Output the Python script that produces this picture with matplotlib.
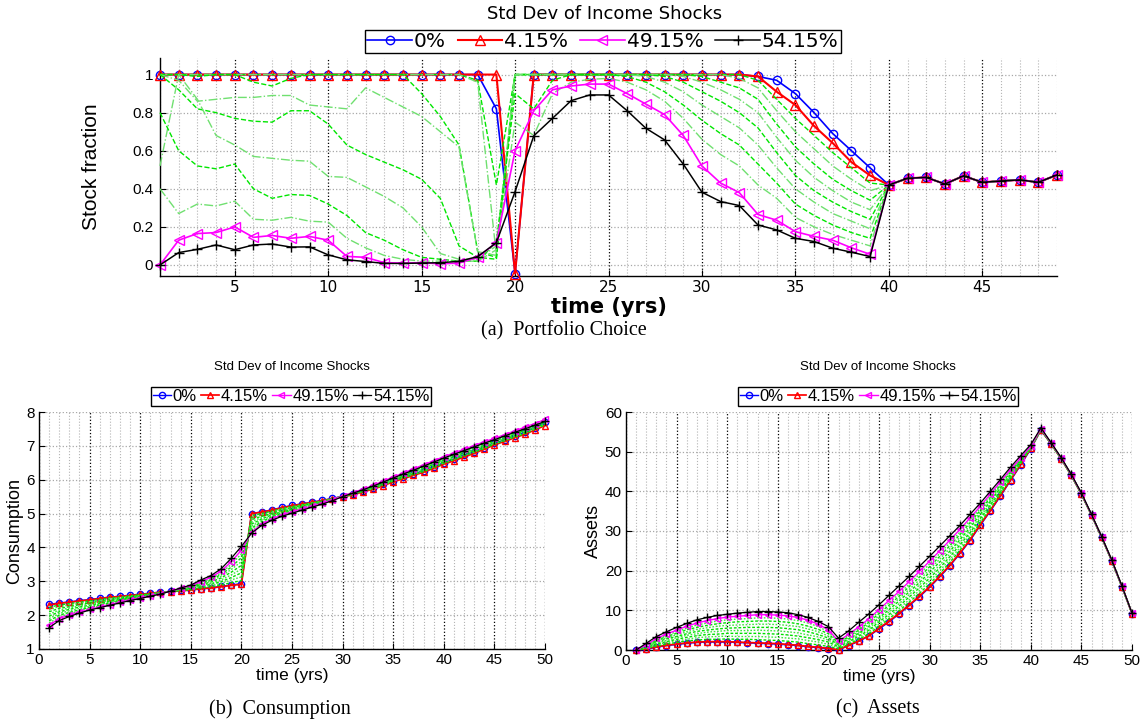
import numpy as np
import matplotlib
matplotlib.use("Agg")
import matplotlib.pyplot as plt

SANS = ["Liberation Sans", "DejaVu Sans"]
WIDE = ["DejaVu Sans"]
NARROW = ["Liberation Sans Narrow", "Liberation Sans", "DejaVu Sans"]
SERIF = ["Liberation Serif", "DejaVu Serif"]

legend_labels = ["0%", "4.15%", "49.15%", "54.15%"]
panel_title = "Std Dev of Income Shocks"

# ---------------- (a) portfolio choice: years 1..40, shared tail 41..49
years_top = np.arange(1, 50)
stock_tail = [0.455, 0.46, 0.425, 0.468, 0.434, 0.441, 0.447, 0.434, 0.473]
stock_0 = [1] * 18 + [0.82, -0.045] + [1] * 12 + [0.99, 0.97, 0.90, 0.80, 0.69, 0.60, 0.51, 0.42]
stock_4 = [1] * 19 + [-0.045] + [1] * 12 + [0.99, 0.91, 0.84, 0.73, 0.64, 0.54, 0.47, 0.42]
stock_49 = [0, 0.13, 0.165, 0.17, 0.20, 0.145, 0.155, 0.14, 0.15, 0.13, 0.045, 0.04, 0.012, 0.01,
            0.012, 0.006, 0.01, 0.04, 0.117, 0.60, 0.81, 0.92, 0.94, 0.95, 0.95, 0.90, 0.845, 0.79,
            0.68, 0.52, 0.43, 0.38, 0.265, 0.235, 0.175, 0.15, 0.13, 0.09, 0.056, 0.42]
stock_54 = [0, 0.065, 0.082, 0.105, 0.08, 0.105, 0.11, 0.094, 0.095, 0.053, 0.027, 0.018, 0.008,
            0.008, 0.01, 0.012, 0.019, 0.044, 0.117, 0.385, 0.678, 0.77, 0.863, 0.893, 0.893, 0.81,
            0.718, 0.657, 0.53, 0.382, 0.333, 0.312, 0.21, 0.184, 0.14, 0.123, 0.088, 0.067, 0.044, 0.42]
# intermediate std devs (9.15% ... 44.15%)
stock_g1 = [1] * 17 + [0.97, 0.42, 1] + [1] * 12 + [0.97, 0.87, 0.77, 0.68, 0.59, 0.51, 0.43, 0.42]
stock_g2 = [1] * 17 + [0.96, 0.05, 1] + [1] * 11 + [0.98, 0.93, 0.81, 0.70, 0.61, 0.52, 0.45, 0.39, 0.42]
stock_g3 = [1, 1, 0.99, 1, 1, 0.96, 0.94, 0.98, 1, 1, 1, 1, 1, 1, 0.9, 0.78, 0.63, 0.07, 0.04, 1] + \
           [1] * 9 + [0.99, 0.96, 0.93, 0.87, 0.74, 0.62, 0.53, 0.45, 0.39, 0.34, 0.42]
stock_g4 = [1, 0.97, 0.86, 0.87, 0.88, 0.88, 0.89, 0.89, 0.84, 0.83, 0.82, 0.93, 0.88, 0.83, 0.78,
            0.70, 0.62, 0.07, 0.05, 1] + [1] * 8 + \
           [0.99, 0.96, 0.92, 0.87, 0.80, 0.67, 0.55, 0.46, 0.39, 0.33, 0.29, 0.42]
stock_g5 = [1, 0.92, 0.82, 0.80, 0.77, 0.755, 0.75, 0.81, 0.81, 0.74, 0.63, 0.58, 0.54, 0.50, 0.45,
            0.35, 0.10, 0.04, 0.03, 1] + [1] * 7 + \
           [0.99, 0.96, 0.91, 0.86, 0.80, 0.72, 0.59, 0.47, 0.39, 0.33, 0.28, 0.24, 0.42]
stock_g6 = [0.52, 1, 0.87, 0.68, 0.63, 0.57, 0.56, 0.55, 0.545, 0.465, 0.46, 0.41, 0.36, 0.30, 0.20,
            0.06, 0.03, 0.03, 0.1, 1] + [1] * 6 + \
           [0.99, 0.96, 0.91, 0.84, 0.78, 0.72, 0.63, 0.51, 0.40, 0.33, 0.27, 0.23, 0.19, 0.42]
stock_g7 = [0.80, 0.60, 0.52, 0.505, 0.53, 0.40, 0.35, 0.37, 0.365, 0.32, 0.26, 0.17, 0.13, 0.08,
            0.04, 0.03, 0.02, 0.02, 0.12, 0.9, 0.82, 0.97, 1, 1, 1, 0.99, 0.96, 0.91, 0.84, 0.76,
            0.69, 0.63, 0.53, 0.43, 0.32, 0.26, 0.21, 0.17, 0.14, 0.42]
stock_g8 = [0.40, 0.27, 0.32, 0.31, 0.335, 0.24, 0.235, 0.25, 0.23, 0.225, 0.14, 0.09, 0.05, 0.03,
            0.02, 0.02, 0.02, 0.02, 0.08, 0.75, 0.68, 0.90, 0.96, 0.975, 0.98, 0.96, 0.92, 0.86,
            0.77, 0.66, 0.58, 0.52, 0.42, 0.35, 0.25, 0.20, 0.16, 0.13, 0.10, 0.42]
stock_ticks = [0, 0.2, 0.4, 0.6, 0.8, 1]
stock_ticklabels = ["0", "0.2", "0.4", "0.6", "0.8", "1"]

# ---------------- (b) consumption, years 1..50
years = np.arange(1, 51)
cons_0 = [2.32, 2.36, 2.39, 2.43, 2.46, 2.50, 2.53, 2.56, 2.59, 2.62, 2.65, 2.68, 2.70, 2.73, 2.75,
          2.78, 2.81, 2.85, 2.89, 2.93, 5.00, 5.05, 5.11, 5.18, 5.24, 5.29, 5.34, 5.39, 5.45, 5.51,
          5.57, 5.66, 5.75, 5.86, 5.97, 6.07, 6.17, 6.27, 6.38, 6.50, 6.61, 6.72, 6.83, 6.95, 7.07,
          7.18, 7.29, 7.40, 7.54, 7.70]
cons_4 = [2.30, 2.35, 2.38, 2.42, 2.45, 2.49, 2.53, 2.55, 2.58, 2.61, 2.64, 2.68, 2.69, 2.72, 2.74,
          2.78, 2.80, 2.84, 2.88, 2.91, 5.00, 5.04, 5.10, 5.17, 5.23, 5.28, 5.33, 5.38, 5.44, 5.50,
          5.55, 5.64, 5.72, 5.82, 5.94, 6.03, 6.13, 6.22, 6.34, 6.46, 6.56, 6.67, 6.78, 6.90, 7.03,
          7.13, 7.24, 7.34, 7.47, 7.60]
cons_49 = [1.70, 1.90, 2.00, 2.09, 2.17, 2.24, 2.31, 2.38, 2.45, 2.51, 2.57, 2.63, 2.71, 2.79, 2.87,
           2.99, 3.12, 3.30, 3.58, 3.92, 4.45, 4.68, 4.84, 4.96, 5.05, 5.14, 5.22, 5.31, 5.41, 5.52,
           5.62, 5.72, 5.83, 5.96, 6.08, 6.20, 6.32, 6.44, 6.56, 6.68, 6.79, 6.90, 7.01, 7.12, 7.22,
           7.33, 7.44, 7.55, 7.66, 7.78]
cons_54 = [1.63, 1.84, 1.96, 2.06, 2.15, 2.22, 2.29, 2.36, 2.43, 2.49, 2.56, 2.62, 2.71, 2.80, 2.89,
           3.04, 3.17, 3.37, 3.68, 4.03, 4.42, 4.65, 4.80, 4.92, 5.01, 5.10, 5.19, 5.28, 5.38, 5.50,
           5.60, 5.70, 5.81, 5.93, 6.05, 6.17, 6.28, 6.40, 6.52, 6.64, 6.75, 6.86, 6.97, 7.08, 7.18,
           7.29, 7.40, 7.50, 7.61, 7.72]
cons_g1 = [2.23, 2.30, 2.34, 2.38, 2.42, 2.46, 2.51, 2.53, 2.57, 2.60, 2.63, 2.67, 2.69, 2.73, 2.75,
           2.80, 2.84, 2.89, 2.96, 3.02, 4.94, 5.00, 5.07, 5.15, 5.21, 5.26, 5.32, 5.37, 5.44, 5.50,
           5.56, 5.65, 5.73, 5.84, 5.96, 6.05, 6.15, 6.24, 6.36, 6.48, 6.59, 6.70, 6.81, 6.92, 7.05,
           7.15, 7.26, 7.36, 7.49, 7.62]
cons_g2 = [2.17, 2.25, 2.30, 2.35, 2.39, 2.43, 2.48, 2.51, 2.55, 2.59, 2.62, 2.67, 2.69, 2.74, 2.77,
           2.83, 2.87, 2.94, 3.04, 3.13, 4.88, 4.96, 5.04, 5.12, 5.19, 5.25, 5.31, 5.36, 5.43, 5.50,
           5.57, 5.66, 5.74, 5.85, 5.97, 6.07, 6.17, 6.27, 6.39, 6.51, 6.61, 6.72, 6.83, 6.95, 7.07,
           7.17, 7.28, 7.39, 7.51, 7.64]
cons_g3 = [2.10, 2.20, 2.25, 2.31, 2.36, 2.41, 2.46, 2.49, 2.54, 2.58, 2.62, 2.66, 2.70, 2.74, 2.78,
           2.85, 2.91, 2.99, 3.11, 3.25, 4.82, 4.92, 5.01, 5.10, 5.17, 5.23, 5.29, 5.36, 5.43, 5.51,
           5.57, 5.67, 5.76, 5.87, 5.99, 6.09, 6.19, 6.29, 6.41, 6.53, 6.64, 6.75, 6.86, 6.97, 7.09,
           7.20, 7.31, 7.41, 7.53, 7.66]
cons_g4 = [2.03, 2.15, 2.21, 2.27, 2.33, 2.38, 2.43, 2.47, 2.52, 2.57, 2.61, 2.66, 2.70, 2.75, 2.80,
           2.87, 2.94, 3.04, 3.19, 3.36, 4.76, 4.88, 4.98, 5.08, 5.15, 5.22, 5.28, 5.35, 5.43, 5.51,
           5.58, 5.68, 5.77, 5.88, 6.00, 6.11, 6.21, 6.32, 6.44, 6.56, 6.66, 6.77, 6.88, 7.00, 7.11,
           7.22, 7.33, 7.43, 7.55, 7.68]
cons_g5 = [1.97, 2.10, 2.17, 2.24, 2.29, 2.35, 2.41, 2.46, 2.51, 2.55, 2.60, 2.65, 2.70, 2.76, 2.81,
           2.90, 2.98, 3.10, 3.27, 3.47, 4.69, 4.84, 4.96, 5.05, 5.13, 5.20, 5.27, 5.34, 5.42, 5.51,
           5.59, 5.68, 5.78, 5.90, 6.02, 6.12, 6.24, 6.34, 6.46, 6.58, 6.69, 6.80, 6.91, 7.02, 7.14,
           7.24, 7.35, 7.46, 7.58, 7.70]
cons_g6 = [1.90, 2.05, 2.13, 2.20, 2.26, 2.32, 2.38, 2.44, 2.49, 2.54, 2.59, 2.65, 2.70, 2.77, 2.83,
           2.92, 3.01, 3.15, 3.35, 3.58, 4.63, 4.80, 4.93, 5.03, 5.11, 5.19, 5.26, 5.33, 5.42, 5.51,
           5.60, 5.69, 5.79, 5.91, 6.03, 6.14, 6.26, 6.37, 6.49, 6.61, 6.71, 6.82, 6.93, 7.05, 7.16,
           7.26, 7.37, 7.48, 7.60, 7.72]
cons_g7 = [1.83, 2.00, 2.08, 2.16, 2.23, 2.30, 2.36, 2.42, 2.48, 2.53, 2.59, 2.64, 2.71, 2.77, 2.84,
           2.94, 3.05, 3.20, 3.42, 3.70, 4.57, 4.76, 4.90, 5.01, 5.09, 5.17, 5.24, 5.33, 5.42, 5.52,
           5.60, 5.70, 5.81, 5.93, 6.05, 6.16, 6.28, 6.39, 6.51, 6.63, 6.74, 6.85, 6.96, 7.07, 7.18,
           7.29, 7.40, 7.50, 7.62, 7.74]
cons_g8 = [1.77, 1.95, 2.04, 2.13, 2.20, 2.27, 2.33, 2.40, 2.46, 2.52, 2.58, 2.64, 2.71, 2.78, 2.86,
           2.97, 3.08, 3.25, 3.50, 3.81, 4.51, 4.72, 4.87, 4.98, 5.07, 5.16, 5.23, 5.32, 5.41, 5.52,
           5.61, 5.71, 5.82, 5.94, 6.06, 6.18, 6.30, 6.42, 6.54, 6.66, 6.76, 6.87, 6.98, 7.10, 7.20,
           7.31, 7.42, 7.53, 7.64, 7.76]

# ---------------- (c) assets, years 1..50
ast_0 = [0, 0.2, 0.7, 1.1, 1.4, 1.7, 1.9, 2.0, 2.0, 2.0, 1.9, 1.8, 1.7, 1.6, 1.5, 1.3, 1.1, 0.8, 0.6,
         0.3, 0.0, 1.1, 2.2, 3.5, 5.3, 7.1, 9.1, 11.2, 13.4, 15.8, 18.4, 21.2, 24.3, 27.6, 31.4, 35.0,
         38.8, 42.7, 46.6, 50.7, 55.4, 52.0, 48.2, 44.0, 39.3, 34.0, 28.4, 22.5, 16.0, 9.2]
ast_4 = [0, 0.3, 0.8, 1.2, 1.5, 1.8, 2.0, 2.1, 2.1, 2.1, 2.0, 1.9, 1.8, 1.7, 1.6, 1.4, 1.2, 0.9, 0.7,
         0.4, 0.1, 1.2, 2.3, 3.6, 5.5, 7.3, 9.3, 11.4, 13.6, 16.0, 18.6, 21.4, 24.5, 27.8, 31.6, 35.2,
         39.0, 42.9, 46.8, 50.9, 55.5, 52.0, 48.2, 44.0, 39.3, 34.0, 28.4, 22.5, 16.0, 9.2]
ast_49 = [0, 1.3, 2.9, 4.0, 5.0, 6.0, 6.8, 7.4, 7.9, 8.3, 8.5, 8.7, 8.9, 8.9, 8.8, 8.6, 8.2, 7.5, 6.5,
          5.1, 2.2, 4.0, 5.8, 7.9, 10.2, 12.5, 14.8, 17.3, 19.8, 22.4, 25.0, 27.7, 30.4, 33.3, 36.2,
          39.3, 42.4, 45.5, 48.4, 51.4, 55.8, 52.2, 48.4, 44.2, 39.5, 34.1, 28.5, 22.6, 16.1, 9.3]
ast_54 = [0, 1.7, 3.4, 4.6, 5.7, 6.7, 7.6, 8.2, 8.7, 9.0, 9.3, 9.5, 9.7, 9.7, 9.6, 9.4, 8.9, 8.2, 7.2,
          5.9, 3.0, 4.8, 7.0, 9.1, 11.4, 13.8, 16.2, 18.6, 21.1, 23.6, 26.2, 28.8, 31.4, 34.2, 37.0,
          40.0, 43.0, 46.1, 49.0, 51.8, 56.0, 52.3, 48.5, 44.3, 39.6, 34.2, 28.6, 22.7, 16.2, 9.3]
ast_g1 = [0, 0.4, 1.0, 1.5, 1.9, 2.3, 2.5, 2.7, 2.7, 2.8, 2.7, 2.7, 2.6, 2.5, 2.4, 2.2, 2.0, 1.6, 1.3,
          0.9, 0.3, 1.5, 2.7, 4.1, 6.0, 7.9, 9.9, 12.1, 14.3, 16.7, 19.3, 22.1, 25.2, 28.4, 32.1, 35.7,
          39.4, 43.2, 47.0, 51.0, 55.5, 52.0, 48.2, 44.0, 39.3, 34.0, 28.4, 22.5, 16.0, 9.2]
ast_g2 = [0, 0.5, 1.3, 1.8, 2.3, 2.7, 3.1, 3.3, 3.4, 3.5, 3.4, 3.4, 3.4, 3.3, 3.2, 3.0, 2.8, 2.4, 2.0,
          1.4, 0.6, 1.8, 3.1, 4.6, 6.5, 8.5, 10.5, 12.7, 15.0, 17.4, 20.0, 22.8, 25.8, 29.0, 32.6, 36.1,
          39.8, 43.5, 47.2, 51.0, 55.6, 52.0, 48.2, 44.0, 39.3, 34.0, 28.4, 22.5, 16.0, 9.2]
ast_g3 = [0, 0.6, 1.5, 2.1, 2.7, 3.2, 3.6, 3.9, 4.0, 4.2, 4.2, 4.2, 4.2, 4.1, 4.0, 3.8, 3.5, 3.1, 2.6,
          2.0, 0.8, 2.1, 3.5, 5.0, 7.1, 9.0, 11.1, 13.4, 15.7, 18.1, 20.7, 23.5, 26.5, 29.6, 33.1, 36.6,
          40.1, 43.8, 47.3, 51.1, 55.6, 52.1, 48.3, 44.1, 39.4, 34.0, 28.4, 22.5, 16.0, 9.2]
ast_g4 = [0, 0.7, 1.7, 2.4, 3.1, 3.7, 4.1, 4.5, 4.7, 4.9, 4.9, 4.9, 5.0, 4.9, 4.8, 4.6, 4.3, 3.8, 3.3,
          2.5, 1.0, 2.4, 3.9, 5.5, 7.6, 9.6, 11.7, 14.0, 16.4, 18.8, 21.4, 24.2, 27.1, 30.2, 33.6, 37.0,
          40.5, 44.1, 47.5, 51.1, 55.6, 52.1, 48.3, 44.1, 39.4, 34.0, 28.4, 22.5, 16.0, 9.2]
ast_g5 = [0, 0.9, 2.0, 2.8, 3.4, 4.1, 4.7, 5.0, 5.3, 5.5, 5.6, 5.7, 5.7, 5.7, 5.6, 5.4, 5.1, 4.6, 3.9,
          3.0, 1.3, 2.8, 4.2, 6.0, 8.1, 10.2, 12.4, 14.7, 17.0, 19.6, 22.2, 24.9, 27.8, 30.9, 34.2, 37.5,
          40.9, 44.3, 47.7, 51.2, 55.7, 52.1, 48.3, 44.1, 39.4, 34.1, 28.5, 22.6, 16.1, 9.3]
ast_g6 = [0, 1.0, 2.2, 3.1, 3.8, 4.6, 5.2, 5.6, 6.0, 6.2, 6.3, 6.4, 6.5, 6.5, 6.4, 6.2, 5.9, 5.3, 4.6,
          3.5, 1.5, 3.1, 4.6, 6.5, 8.6, 10.8, 13.0, 15.3, 17.7, 20.3, 22.9, 25.6, 28.4, 31.5, 34.7, 37.9,
          41.3, 44.6, 47.9, 51.2, 55.7, 52.1, 48.3, 44.1, 39.4, 34.1, 28.5, 22.6, 16.1, 9.3]
ast_g7 = [0, 1.1, 2.4, 3.4, 4.2, 5.1, 5.7, 6.2, 6.6, 6.9, 7.1, 7.2, 7.3, 7.3, 7.2, 7.0, 6.6, 6.0, 5.2,
          4.1, 1.7, 3.4, 5.0, 7.0, 9.2, 11.3, 13.6, 16.0, 18.4, 21.0, 23.6, 26.3, 29.1, 32.1, 35.2, 38.4,
          41.6, 44.9, 48.0, 51.3, 55.7, 52.2, 48.4, 44.2, 39.5, 34.1, 28.5, 22.6, 16.1, 9.3]
ast_g8 = [0, 1.2, 2.7, 3.7, 4.6, 5.5, 6.3, 6.8, 7.3, 7.6, 7.8, 7.9, 8.1, 8.1, 8.0, 7.8, 7.4, 6.8, 5.9,
          4.6, 2.0, 3.7, 5.4, 7.4, 9.7, 11.9, 14.2, 16.6, 19.1, 21.7, 24.3, 27.0, 29.7, 32.7, 35.7, 38.8,
          42.0, 45.2, 48.2, 51.3, 55.8, 52.2, 48.4, 44.2, 39.5, 34.1, 28.5, 22.6, 16.1, 9.3]

W, H = 1141, 724
fig = plt.figure(figsize=(W / 100, H / 100), dpi=100)


def px_axes(x0, y0, x1, y1):
    # axes from pixel box (left, top, right, bottom)
    return fig.add_axes([x0 / W, 1 - y1 / H, (x1 - x0) / W, (y1 - y0) / H])


def style_axes(ax, xmin, xmax, xmajor, tick_font, tick_size):
    ax.set_xlim(xmin, xmax)
    ax.set_xticks(xmajor)
    ax.set_xticks(np.arange(xmin, xmax + 1), minor=True)
    for s in ["top", "right"]:
        ax.spines[s].set_visible(False)
    ax.spines["left"].set_linewidth(1.0)
    ax.spines["bottom"].set_linewidth(1.0)
    ax.tick_params(which="major", direction="in", length=4, width=0.8, pad=3)
    ax.tick_params(which="minor", length=0)
    ax.grid(which="minor", axis="x", color="#b4b4b4", ls=":", lw=0.8)
    ax.grid(which="major", axis="x", color="black", ls=":", lw=0.9)
    ax.grid(which="major", axis="y", color="#a8a8a8", ls=":", lw=0.9)
    ax.set_axisbelow(True)
    for lab in ax.get_xticklabels() + ax.get_yticklabels():
        lab.set_family(tick_font)
        lab.set_fontsize(tick_size)


def draw(ax, x, blue, red, greens, mag, blk, ms, lw, gstyles):
    hb, = ax.plot(x, blue, color="#0000ff", marker="o", mfc="none", ms=ms, lw=lw, clip_on=False, zorder=3)
    hr, = ax.plot(x, red, color="#ff0000", marker="^", mfc="none", ms=ms + 0.5, lw=lw * 1.25, clip_on=False, zorder=3)
    for i, g in enumerate(greens):
        ls, col = gstyles[i % len(gstyles)]
        ax.plot(x, g, color=col, ls=ls, lw=1.0, clip_on=False, zorder=3)
    hm, = ax.plot(x, mag, color="#ff00ff", marker="<", mfc="none", ms=ms + 0.5, lw=lw, clip_on=False, zorder=4)
    hk, = ax.plot(x, blk, color="black", marker="+", ms=ms + 1, lw=lw * 0.9, clip_on=False, zorder=5)
    return [hb, hr, hm, hk]


def add_legend(ax, handles, cx, cy, size, font, hl, cs):
    leg = ax.legend(handles, legend_labels, loc="center", bbox_to_anchor=(cx / W, 1 - cy / H),
                    bbox_transform=fig.transFigure, ncol=4, fancybox=False, edgecolor="black",
                    framealpha=1, handlelength=hl, handletextpad=0.1, columnspacing=cs,
                    borderpad=0.12, borderaxespad=0, prop=dict(family=font, size=size))
    leg.get_frame().set_linewidth(1.0)


# ---------- top panel
ax_a = px_axes(160, 58, 1057, 276)
top_greens = [g + stock_tail for g in [stock_g1, stock_g2, stock_g3, stock_g4,
                                       stock_g5, stock_g6, stock_g7, stock_g8]]
h = draw(ax_a, years_top, stock_0 + stock_tail, stock_4 + stock_tail, top_greens,
         stock_49 + stock_tail, stock_54 + stock_tail, ms=6, lw=1.2,
         gstyles=[("--", "#00e600"), ("-.", "#70e070")])
ax_a.set_ylim(-0.058, 1.087)
ax_a.set_yticks(stock_ticks)
ax_a.set_yticklabels(stock_ticklabels)
style_axes(ax_a, 1, 49, np.arange(5, 50, 5), WIDE, 11)
ax_a.tick_params(axis="y", pad=5)
for lab in ax_a.get_yticklabels():
    lab.set_family(SANS)
    lab.set_fontsize(11)
ax_a.set_ylabel("Stock fraction", family=NARROW, fontsize=15, labelpad=22)
ax_a.set_xlabel("time (yrs)", family=WIDE, fontsize=15, fontweight="bold", labelpad=1)
add_legend(ax_a, h, 603, 41.5, 14.5, WIDE, 2.2, 0.6)
fig.text(605 / W, 1 - 14 / H, panel_title, ha="center", va="center", family=WIDE, fontsize=13)
fig.text(564 / W, 1 - 331 / H, "(a)  Portfolio Choice", ha="center", va="center", family=SERIF, fontsize=14.5)

# ---------- bottom panels
bottom_styles = [((0, (2, 1.3)), "#00e000"), ((0, (1.2, 1.2)), "#40e840")]

ax_b = px_axes(39, 412, 545, 649)
h = draw(ax_b, years, cons_0, cons_4,
         [cons_g1, cons_g2, cons_g3, cons_g4, cons_g5, cons_g6, cons_g7, cons_g8],
         cons_49, cons_54, ms=4.5, lw=1.0, gstyles=bottom_styles)
ax_b.set_ylim(1, 8)
ax_b.set_yticks(np.arange(1, 9))
style_axes(ax_b, 0, 50, np.arange(0, 51, 5), SANS, 11)
ax_b.set_ylabel("Consumption", family=SANS, fontsize=13, labelpad=2)
ax_b.set_xlabel("time (yrs)", family=SANS, fontsize=12.5)
ax_b.xaxis.set_label_coords(0.5, -0.08)
add_legend(ax_b, h, 291, 396, 12, SANS, 1.1, 0.25)
fig.text(292 / W, 1 - 367 / H, panel_title, ha="center", va="center", family=SANS, fontsize=9.5)
fig.text(280 / W, 1 - 709 / H, "(b)  Consumption", ha="center", va="center", family=SERIF, fontsize=14.5)

ax_c = px_axes(626, 412, 1132, 650)
h = draw(ax_c, years, ast_0, ast_4,
         [ast_g1, ast_g2, ast_g3, ast_g4, ast_g5, ast_g6, ast_g7, ast_g8],
         ast_49, ast_54, ms=4.5, lw=1.0, gstyles=bottom_styles)
ax_c.set_ylim(0, 60)
ax_c.set_yticks(np.arange(0, 61, 10))
style_axes(ax_c, 0, 50, np.arange(0, 51, 5), SANS, 11)
ax_c.set_ylabel("Assets", family=SANS, fontsize=13, labelpad=2)
ax_c.set_xlabel("time (yrs)", family=SANS, fontsize=12.5)
ax_c.xaxis.set_label_coords(0.5, -0.08)
add_legend(ax_c, h, 878, 396, 12, SANS, 1.1, 0.25)
fig.text(878 / W, 1 - 367 / H, panel_title, ha="center", va="center", family=SANS, fontsize=9.5)
fig.text(878 / W, 1 - 709 / H, "(c)  Assets", ha="center", va="center", family=SERIF, fontsize=14.5)

fig.savefig("out.png", dpi=100)
